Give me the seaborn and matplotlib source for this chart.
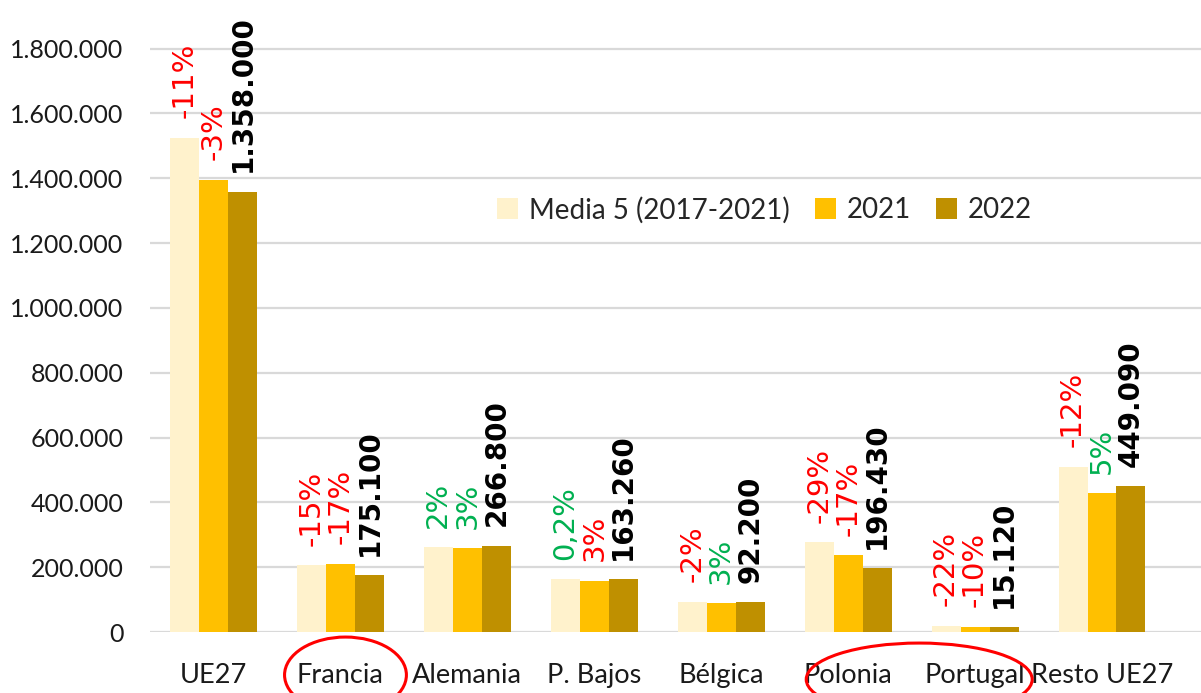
import seaborn as sns
import matplotlib.pyplot as plt
import matplotlib.transforms as mtransforms
from matplotlib.patches import Ellipse
from matplotlib.ticker import FuncFormatter
import pandas as pd

# data
paises = ['UE27', 'Francia', 'Alemania', 'P. Bajos', 'Bélgica', 'Polonia', 'Portugal', 'Resto UE27']
media5 = [1525000, 206000, 261600, 162900, 94000, 276700, 19400, 510000]
v2021 = [1396000, 211000, 259000, 158500, 89500, 236700, 16800, 427700]
v2022 = [1358000, 175100, 266800, 163260, 92200, 196430, 15120, 449090]
pct_media = ['-11%', '-15%', '2%', '0,2%', '-2%', '-29%', '-22%', '-12%']
pct_2021 = ['-3%', '-17%', '3%', '3%', '3%', '-17%', '-10%', '5%']
col_media = ['red', 'red', 'green', 'green', 'red', 'red', 'red', 'red']
col_2021 = ['red', 'red', 'green', 'red', 'green', 'red', 'red', 'green']
series = ['Media 5 (2017-2021)', '2021', '2022']

df = pd.DataFrame({
    'pais': paises * 3,
    'serie': [s for s in series for _ in paises],
    'valor': media5 + v2021 + v2022,
})

sns.set_style('white')
plt.rcParams['font.family'] = ['Lato', 'DejaVu Sans']

fig = plt.figure(figsize=(12.01, 6.93), dpi=100)
ax = fig.add_axes([150 / 1201, 61 / 693, 1051 / 1201, 632 / 693])

pal = ['#FFF2CC', '#FFC000', '#BF9000']
sns.barplot(data=df, x='pais', y='valor', hue='serie', palette=pal,
            width=0.685, saturation=1, linewidth=0, ax=ax, zorder=3)

ax.set_ylim(0, 1950000)
ax.set_xlim(-0.5, 7.78)
ax.set_yticks(range(0, 1800001, 200000))
ax.yaxis.set_major_formatter(FuncFormatter(lambda v, p: f'{int(v):,}'.replace(',', '.')))
ax.grid(axis='y', color='#d9d9d9', linewidth=1.6, zorder=0)
ax.set_axisbelow(True)
for s in ax.spines.values():
    s.set_visible(False)
ax.tick_params(axis='both', length=0, colors='#1a1a1a')
ax.tick_params(axis='x', pad=22, labelsize=19.5)
ax.tick_params(axis='y', pad=19, labelsize=18)
ax.set_xlabel('')
ax.set_ylabel('')

colmap = {'red': '#FF0000', 'green': '#00B050'}
labels = [
    ([p for p in pct_media], [colmap[c] for c in col_media], 'normal'),
    ([p for p in pct_2021], [colmap[c] for c in col_2021], 'normal'),
    ([f'{v:,}'.replace(',', '.') for v in v2022], ['black'] * 8, 'bold'),
]
for cont, (txts, cols, weight) in zip(ax.containers, labels):
    for bar, t, c in zip(cont, txts, cols):
        x = bar.get_x() + bar.get_width() / 2
        ax.annotate(t, (x, bar.get_height()), xytext=(0, 14), textcoords='offset points',
                    rotation=90, ha='center', va='bottom', color=c,
                    fontsize=20 if weight == 'bold' else 21, fontweight=weight,
                    family='DejaVu Sans', zorder=4)

ax.legend(loc='center', bbox_to_anchor=(0.585, 0.668), ncol=3, frameon=False,
          fontsize=20, handlelength=0.75, handleheight=0.75, handletextpad=0.4,
          columnspacing=0.9)

# red circles around the highlighted countries
trans = mtransforms.blended_transform_factory(ax.transData, ax.transAxes)
ax.add_patch(Ellipse((1.04, -0.068), 0.96, 0.12, transform=trans, fill=False,
                     edgecolor='#FF0000', linewidth=2.2, clip_on=False))
ax.add_patch(Ellipse((5.56, -0.075), 1.78, 0.115, transform=trans, fill=False,
                     edgecolor='#FF0000', linewidth=2.2, clip_on=False))

fig.savefig('out.png', dpi=100)
